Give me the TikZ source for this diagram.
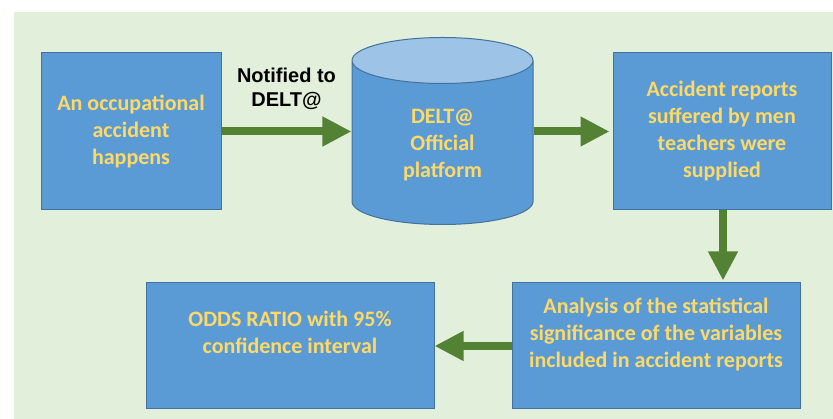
\documentclass[tikz,border=0pt]{standalone}
\usepackage{fontspec}
\usepackage{tikz}
\usetikzlibrary{shapes.geometric,arrows.meta}
\newfontfamily\boxfont{Carlito}
\newfontfamily\labfont{Liberation Sans}
\definecolor{boxblue}{HTML}{5B9BD5}
\definecolor{boxline}{HTML}{41719C}
\definecolor{toplight}{HTML}{9DC3E6}
\definecolor{arrgreen}{HTML}{548235}
\definecolor{bggreen}{HTML}{E2EFDA}
\definecolor{txtyellow}{HTML}{FFD966}
\tikzset{
  boxtext/.style={align=center,text=txtyellow,font=\boxfont\bfseries\fontsize{22}{27}\selectfont},
  stepbox/.style={boxtext,draw=boxline,fill=boxblue,line width=1pt},
  dbcyl/.style={draw=boxline,line width=1pt,cylinder,shape border rotate=90,inner sep=10pt,aspect=2.3,
    cylinder uses custom fill,cylinder body fill=boxblue,cylinder end fill=toplight},
  flow/.style={draw=arrgreen,line width=8pt,-{Triangle[width=28pt,length=29pt]}}
}

\begin{document}
\begin{tikzpicture}[x=1pt,y=1pt]
% background
\useasboundingbox (0,0) rectangle (833,419);
\fill[bggreen] (14,0) rectangle (833,407);

% boxes
\node[stepbox,minimum width=180pt,minimum height=157pt] (occ) at (131,287.5)
  {An occupational\\accident\\happens};
\node[dbcyl,minimum width=181pt,minimum height=187pt,anchor=shape center] (delta) at (442.5,288) {};
\node[boxtext] (deltatxt) at (442.5,274) {DELT@\\Official\\platform};
\node[stepbox,minimum width=218pt,minimum height=157pt] (reports) at (722,287.5)
  {Accident reports\\suffered by men\\teachers were\\supplied};
\node[stepbox,minimum width=288pt,minimum height=126pt] (analysis) at (656,73)
  {Analysis of the statistical\\significance of the variables\\included in accident reports\\~};
\node[stepbox,minimum width=288pt,minimum height=126pt] (odds) at (290,73)
  {ODDS RATIO with 95\%\\confidence interval\\~};

% arrows
\draw[flow] (occ.east) -- (delta.west |- occ.east)
  node[midway,above=14pt,align=center,font=\labfont\bfseries\fontsize{20}{24}\selectfont] (notif) {Notified to\\DELT@};
\draw[flow,shorten >=3pt] (delta.east |- reports.west) -- (reports.west);
\draw[flow,shorten >=2pt] (reports.south -| 723,0) -- (analysis.north -| 723,0);
\draw[flow] (analysis.west) -- (odds.east);
\end{tikzpicture}
\end{document}
